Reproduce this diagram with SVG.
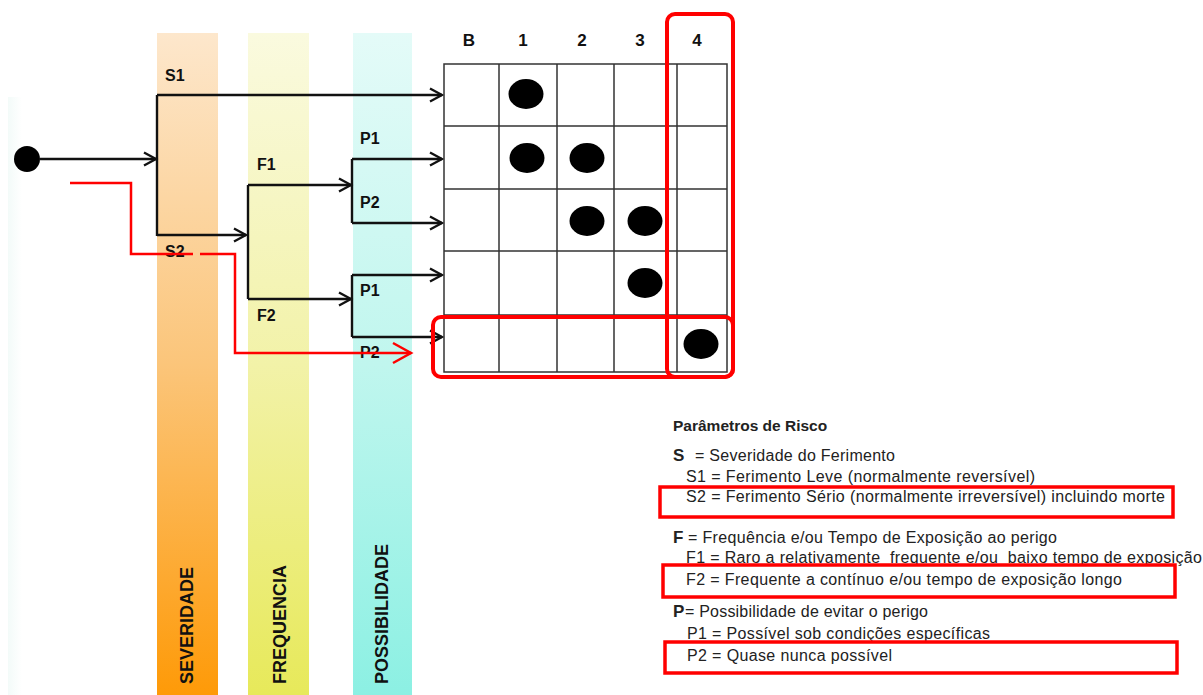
<svg xmlns="http://www.w3.org/2000/svg" width="1203" height="695" viewBox="0 0 1203 695">
<defs>
<linearGradient id="gS" x1="0" y1="0" x2="0" y2="1"><stop offset="0" stop-color="#fde7cc"/><stop offset="0.5" stop-color="#fbc57a"/><stop offset="1" stop-color="#fe9a08"/></linearGradient>
<linearGradient id="gF" x1="0" y1="0" x2="0" y2="1"><stop offset="0" stop-color="#fafadf"/><stop offset="0.5" stop-color="#f2f2a8"/><stop offset="1" stop-color="#e7e95a"/></linearGradient>
<linearGradient id="gP" x1="0" y1="0" x2="0" y2="1"><stop offset="0" stop-color="#e4fbf8"/><stop offset="0.5" stop-color="#c0f6ee"/><stop offset="1" stop-color="#8cf0e3"/></linearGradient>
<linearGradient id="gL" x1="0" y1="0" x2="1" y2="0"><stop offset="0" stop-color="#f3fbf9"/><stop offset="1" stop-color="#ffffff"/></linearGradient>
<marker id="arr" markerUnits="userSpaceOnUse" markerWidth="16" markerHeight="16" refX="13" refY="8" orient="auto"><path d="M1,1.5 L13,8 L1,14.5" fill="none" stroke="#111" stroke-width="2.3"/></marker>
<marker id="arrR" markerUnits="userSpaceOnUse" markerWidth="24" markerHeight="24" refX="20" refY="12" orient="auto"><path d="M2,2 L20,12 L2,22" fill="none" stroke="#f00" stroke-width="2.5"/></marker>
<style>
.lbl{font-family:"Liberation Sans",Arial,sans-serif;font-weight:bold;font-size:16px;fill:#111}
.band{font-family:"Liberation Sans",Arial,sans-serif;font-weight:bold;font-size:18px;fill:#111}
.hdr{font-family:"Liberation Sans",Arial,sans-serif;font-weight:bold;font-size:17px;fill:#111;text-anchor:middle}
.lg{font-family:"Liberation Sans",Arial,sans-serif;font-size:16px;fill:#222;white-space:pre}
.lgb{font-family:"Liberation Sans",Arial,sans-serif;font-size:17px;font-weight:bold;fill:#222}
.con{fill:none;stroke:#111;stroke-width:2.4;marker-end:url(#arr)}
.ln{fill:none;stroke:#111;stroke-width:2.4}
.grid{fill:none;stroke:#333;stroke-width:1.5}
.red{fill:none;stroke:#f00;stroke-width:3.5}
.redl{fill:none;stroke:#f00;stroke-width:2.5}
</style>
</defs>
<rect width="1203" height="695" fill="#fff"/>
<rect x="8" y="97" width="14" height="598" fill="url(#gL)"/>
<g id="band-severidade"><rect x="157" y="33" width="61" height="662" fill="url(#gS)"/><text class="band" transform="translate(193,684) rotate(-90)">SEVERIDADE</text></g>
<g id="band-frequencia"><rect x="248" y="33" width="61" height="662" fill="url(#gF)"/><text class="band" transform="translate(286,684) rotate(-90)">FREQUENCIA</text></g>
<g id="band-possibilidade"><rect x="353" y="33" width="59" height="662" fill="url(#gP)"/><text class="band" transform="translate(388,684) rotate(-90)">POSSIBILIDADE</text></g>
<g id="start"><circle cx="27" cy="159" r="13" fill="#000"/></g>
<g id="connectors">
<path class="con" d="M40,159 H156"/>
<path class="ln" d="M157,95 V236"/>
<path class="con" d="M157,95 H442"/>
<path class="con" d="M157,235 H246"/>
<path class="ln" d="M248,185 V299"/>
<path class="con" d="M248,185 H351"/>
<path class="con" d="M248,299 H351"/>
<path class="ln" d="M352,159 V223"/>
<path class="con" d="M352,159 H442"/>
<path class="con" d="M352,223 H442"/>
<path class="ln" d="M352,275 V337"/>
<path class="con" d="M352,275 H442"/>
<path class="con" d="M352,337 H442"/>
</g>
<g id="labels">
<text class="lbl" x="165" y="81">S1</text>
<text class="lbl" x="165" y="257">S2</text>
<text class="lbl" x="257" y="170">F1</text>
<text class="lbl" x="257" y="321">F2</text>
<text class="lbl" x="360" y="144">P1</text>
<text class="lbl" x="360" y="208">P2</text>
<text class="lbl" x="360" y="296">P1</text>
<text class="lbl" x="360" y="358">P2</text>
</g>
<g id="red-path">
<path class="redl" d="M70,183 H131 V254 H193"/>
<path class="redl" d="M200,254 H235 V353 H411" marker-end="url(#arrR)"/>
</g>
<g id="matrix">
<text class="hdr" x="469" y="46">B</text>
<text class="hdr" x="523" y="46">1</text>
<text class="hdr" x="582" y="46">2</text>
<text class="hdr" x="640" y="46">3</text>
<text class="hdr" x="697" y="46">4</text>
<rect class="grid" x="444" y="64" width="283" height="308"/>
<path class="grid" d="M499,64 V372 M557,64 V372 M614,64 V372 M677,64 V372 M444,126 H727 M444,189 H727 M444,251 H727 M444,315 H727"/>
<g fill="#000">
<ellipse cx="526" cy="94" rx="17.5" ry="15"/>
<ellipse cx="527" cy="158" rx="17.5" ry="15"/>
<ellipse cx="587" cy="158" rx="17.5" ry="15"/>
<ellipse cx="587" cy="221" rx="17.5" ry="15"/>
<ellipse cx="645" cy="221" rx="17.5" ry="15"/>
<ellipse cx="645" cy="283" rx="17.5" ry="15"/>
<ellipse cx="701" cy="344" rx="17.5" ry="15"/>
</g>
<rect x="667" y="14" width="66" height="363" rx="8" fill="none" stroke="#f00" stroke-width="4"/>
<rect x="433" y="317" width="300" height="60" rx="8" fill="none" stroke="#f00" stroke-width="4"/>
</g>
<g id="legend">
<text x="673" y="431" font-family="Liberation Sans, Arial, sans-serif" font-weight="bold" font-size="15.5" fill="#222">Parâmetros de Risco</text>
<text class="lgb" x="673" y="461">S</text>
<text class="lg" x="695" y="461" textLength="200" lengthAdjust="spacing">= Severidade do Ferimento</text>
<text class="lg" x="686" y="482" textLength="349" lengthAdjust="spacing">S1 = Ferimento Leve (normalmente reversível)</text>
<text class="lg" x="686" y="502" textLength="479" lengthAdjust="spacing">S2 = Ferimento Sério (normalmente irreversível) incluindo morte</text>
<text class="lgb" x="673" y="543">F</text>
<text class="lg" x="688" y="543" textLength="369" lengthAdjust="spacing">= Frequência e/ou Tempo de Exposição ao perigo</text>
<text class="lg" x="686" y="563" textLength="516" lengthAdjust="spacing">F1 = Raro a relativamente  frequente e/ou  baixo tempo de exposição</text>
<text class="lg" x="686" y="585" textLength="436" lengthAdjust="spacing">F2 = Frequente a contínuo e/ou tempo de exposição longo</text>
<text class="lgb" x="673" y="617">P</text>
<text class="lg" x="685" y="617" textLength="243" lengthAdjust="spacing">= Possibilidade de evitar o perigo</text>
<text class="lg" x="687" y="639" textLength="303" lengthAdjust="spacing">P1 = Possível sob condições específicas</text>
<text class="lg" x="687" y="661" textLength="205" lengthAdjust="spacing">P2 = Quase nunca possível</text>
<rect class="red" x="660" y="487" width="513" height="30"/>
<rect class="red" x="663" y="565" width="512" height="32"/>
<rect class="red" x="665" y="642" width="512" height="31"/>
</g>
</svg>
